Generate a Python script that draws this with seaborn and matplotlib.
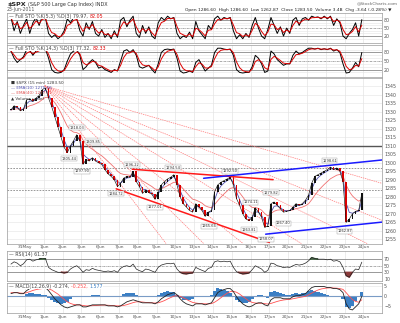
import numpy as np
import pandas as pd
import seaborn as sns
import matplotlib
matplotlib.use("Agg")
import matplotlib.pyplot as plt

sns.set_theme(style="white")
plt.rcParams['font.family'] = ['DejaVu Sans']

# ---------------- data ----------------
day_labels = ["31May", "1Jun", "2Jun", "3Jun", "6Jun", "7Jun", "8Jun", "9Jun", "10Jun",
              "13Jun", "14Jun", "15Jun", "16Jun", "17Jun", "20Jun", "21Jun", "22Jun",
              "23Jun", "24Jun"]

# 15-min closes sampled ~6 per session (first 5 = 27May)
price = [1331, 1333.5, 1332.5, 1330.5, 1331.5,
         1337, 1337.5, 1336, 1338, 1339.5, 1343,
         1344, 1338, 1333, 1327, 1321, 1315,
         1309, 1306, 1310, 1313, 1316.5, 1313,
         1299, 1302, 1301, 1303, 1301, 1300,
         1299, 1296, 1293.5, 1292, 1290, 1286,
         1288, 1291, 1292, 1291.5, 1295, 1289,
         1286, 1282, 1284, 1282.5, 1281.5, 1278.5,
         1283, 1287, 1289, 1290.5, 1291.5, 1293,
         1287, 1280, 1276, 1274, 1272, 1271,
         1276, 1274, 1272, 1268.5, 1271, 1272,
         1283, 1287, 1288.5, 1289.5, 1290.5, 1291.5,
         1287, 1279, 1275, 1270, 1267, 1266,
         1268, 1273.5, 1271, 1268, 1262, 1263,
         1276, 1277, 1275, 1273, 1271, 1271.5,
         1272, 1274, 1276, 1275, 1276, 1278,
         1281, 1288, 1292, 1293, 1294, 1295,
         1296, 1297.5, 1296, 1297, 1295, 1289,
         1265, 1267, 1270, 1271.5, 1272, 1282]

sto_fast = [90, 40, 75, 30, 60,
            85, 30, 70, 90, 60, 95,
            90, 30, 15, 25, 10, 20,
            40, 85, 70, 90, 85, 40,
            20, 70, 45, 75, 30, 20,
            45, 15, 30, 10, 40, 15,
            80, 90, 55, 80, 95, 30,
            15, 60, 30, 55, 20, 10,
            70, 90, 80, 95, 85, 90,
            30, 10, 20, 15, 35, 10,
            75, 40, 25, 10, 60, 45,
            85, 95, 80, 90, 85, 90,
            40, 10, 25, 10, 30, 15,
            60, 90, 50, 20, 10, 45,
            90, 60, 30, 55, 20, 50,
            30, 80, 90, 60, 85, 90,
            80, 95, 90, 92, 85, 95,
            85, 95, 60, 85, 70, 20,
            10, 30, 45, 70, 20, 82]

sto_slow = [85, 60, 45, 55, 65,
            90, 88, 70, 85, 90, 95,
            92, 60, 20, 10, 8, 10,
            20, 50, 75, 85, 90, 70,
            20, 30, 45, 55, 45, 25,
            30, 20, 15, 10, 20, 15,
            50, 85, 90, 80, 90, 70,
            30, 25, 30, 35, 20, 8,
            40, 80, 90, 92, 90, 92,
            60, 15, 8, 10, 15, 10,
            45, 55, 35, 15, 25, 35,
            80, 95, 95, 92, 90, 92,
            70, 20, 10, 8, 10, 10,
            30, 70, 60, 40, 10, 15,
            85, 75, 55, 45, 35, 40,
            40, 70, 85, 75, 80, 88,
            95, 95, 92, 95, 90, 93,
            90, 95, 85, 90, 80, 40,
            8, 10, 25, 45, 30, 80]

rsi = [55, 62, 58, 50, 56,
       68, 70, 64, 68, 70, 74,
       72, 45, 38, 34, 30, 30,
       28, 30, 40, 46, 50, 42,
       30, 38, 36, 42, 38, 36,
       34, 32, 34, 32, 35, 30,
       42, 48, 50, 47, 55, 40,
       35, 32, 40, 38, 34, 30,
       45, 52, 55, 57, 56, 58,
       40, 30, 26, 25, 27, 28,
       45, 40, 36, 32, 42, 45,
       62, 65, 62, 64, 62, 64,
       45, 32, 28, 25, 26, 28,
       38, 50, 45, 40, 30, 36,
       58, 56, 50, 48, 44, 46,
       45, 50, 54, 52, 54, 58,
       65, 75, 72, 70, 70, 70,
       68, 70, 64, 66, 62, 45,
       20, 15, 30, 40, 38, 61]

macd = [1.0, 1.5, 1.5, 1.0, 1.0,
        2.5, 3.5, 3.8, 3.8, 3.9, 4.0,
        4.0, 2.5, 0.5, -1.5, -3.0, -4.5,
        -5.5, -6.0, -5.5, -5.0, -4.5, -4.5,
        -5.5, -5.5, -5.0, -4.5, -4.5, -4.5,
        -4.5, -4.5, -5.0, -5.0, -5.0, -5.5,
        -5.0, -4.0, -3.0, -2.5, -2.0, -2.5,
        -3.0, -3.5, -3.5, -3.5, -3.5, -4.0,
        -3.0, -1.5, -0.5, 0.5, 1.0, 1.5,
        0.5, -1.5, -3.0, -4.0, -4.5, -5.0,
        -4.0, -4.0, -4.0, -4.5, -4.0, -3.5,
        -1.0, 1.5, 2.5, 3.0, 3.5, 3.5,
        2.0, -0.5, -2.5, -4.0, -5.0, -5.5,
        -5.0, -4.0, -3.5, -3.5, -4.5, -5.0,
        -2.0, -1.0, -1.0, -1.0, -1.5, -1.5,
        -1.5, -0.5, 0.0, 0.0, 0.5, 1.0,
        2.5, 4.0, 4.5, 4.5, 4.5, 4.5,
        4.0, 4.0, 3.5, 3.5, 3.0, 1.5,
        -4.0, -6.5, -7.0, -5.5, -4.0, -0.3]

signal = [1.5, 1.5, 1.5, 1.3, 1.2,
          1.5, 2.0, 2.6, 3.0, 3.3, 3.5,
          3.7, 3.4, 2.8, 1.8, 0.8, -0.5,
          -1.8, -3.0, -3.8, -4.3, -4.5, -4.5,
          -4.8, -5.0, -5.0, -4.9, -4.8, -4.7,
          -4.6, -4.6, -4.7, -4.8, -4.9, -5.0,
          -5.0, -4.8, -4.4, -3.9, -3.4, -3.0,
          -3.0, -3.1, -3.3, -3.4, -3.5, -3.6,
          -3.5, -3.0, -2.4, -1.6, -0.9, -0.2,
          0.0, -0.3, -1.0, -1.8, -2.6, -3.3,
          -3.6, -3.8, -3.9, -4.0, -4.0, -3.9,
          -3.2, -2.2, -1.0, 0.2, 1.2, 2.0,
          2.2, 1.7, 0.8, -0.4, -1.5, -2.6,
          -3.3, -3.6, -3.7, -3.7, -3.9, -4.1,
          -3.8, -3.3, -2.8, -2.4, -2.1, -1.9,
          -1.8, -1.5, -1.2, -0.9, -0.6, -0.3,
          0.4, 1.3, 2.1, 2.8, 3.3, 3.6,
          3.8, 3.9, 3.8, 3.7, 3.5, 3.1,
          1.5, -0.3, -1.9, -2.8, -3.2, -2.0]

# labelled swing points
swing_x = [2.34, 2.75, 3.05, 3.6, 4.85, 5.7, 6.9, 7.85, 9.8, 10.9, 11.9, 12.0, 12.8, 13.1, 13.75, 16.2, 17.0]
swing_v = [1305.44, 1318.03, 1297.90, 1309.85, 1284.72, 1296.22, 1277.01, 1294.54, 1265.64,
           1292.50, 1263.81, 1274.11, 1258.07, 1279.82, 1267.40, 1298.61, 1262.87]
swing_up = [False, True, False, True, False, True, False, True, False, True, False, True,
            False, True, False, True, False]

# fan lines from the 1Jun high: (start day, start price, end day, end price)
fan_lines = [(1.05, 1345.2, 19.0, 1287.9),
             (1.05, 1345.2, 19.0, 1266.2),
             (1.05, 1345.2, 18.2, 1252.6),
             (1.05, 1345.2, 14.7, 1252.6),
             (1.05, 1345.2, 11.6, 1252.6),
             (1.05, 1345.2, 9.5, 1252.6),
             (1.05, 1345.2, 7.5, 1252.6)]
red_lines = [(5.7, 1296.22, 13.2, 1290.1),
             (4.85, 1284.72, 13.0, 1253.2)]
blue_lines = [(9.5, 1290.9, 19.2, 1301.9),
              (12.8, 1258.07, 19.2, 1265.4)]

# ---------------- layout ----------------
W, H = 400, 323
fig = plt.figure(figsize=(W / 100, H / 100), dpi=100)
fig.patch.set_facecolor("white")
L, R = 7, 382

def add_ax(top, bottom):
    return fig.add_axes([L / W, 1 - bottom / H, (R - L) / W, (bottom - top) / H])

ax_s1 = add_ax(12.7, 43)
ax_s2 = add_ax(44.5, 77)
ax_m = add_ax(78, 243.5)
ax_r = add_ax(251, 280.5)
ax_d = add_ax(282.5, 313)

n = len(price)
xs = (np.arange(n) - 5 + 0.5) / 6.0
df = pd.DataFrame({"x": xs, "price": price, "sto_fast": sto_fast, "sto_slow": sto_slow,
                   "rsi": rsi, "macd": macd, "signal": signal})
s = pd.Series(price, dtype=float)
df["ema10"] = s.ewm(alpha=0.58, adjust=False).mean()
df["ema40"] = s.ewm(alpha=0.195, adjust=False).mean()
df["sto_fast_d"] = pd.Series(sto_fast, dtype=float).ewm(alpha=0.55, adjust=False).mean()
df["sto_slow_d"] = pd.Series(sto_slow, dtype=float).ewm(alpha=0.55, adjust=False).mean()
df["hist"] = df["macd"] - df["signal"]

XL = (-0.96, 18.99)
tick_fs = 3.4
grid_c = "#e4e4e4"


def label_parts(ax, parts, y=0.96):
    x = 0.005
    for txt, col in parts:
        t = ax.text(x, y, txt, transform=ax.transAxes, fontsize=3.4, va="top", ha="left",
                    color=col, zorder=9,
                    bbox=dict(facecolor="white", edgecolor="none", pad=0.2))
        fig.canvas.draw()
        bb = t.get_window_extent().transformed(ax.transAxes.inverted())
        x = bb.x1


for ax in [ax_s1, ax_s2, ax_m, ax_r, ax_d]:
    ax.set_xlim(*XL)
    ax.set_facecolor("white")
    for sp in ax.spines.values():
        sp.set_color("#9a9a9a")
        sp.set_linewidth(0.5)
    ax.yaxis.tick_right()
    ax.tick_params(axis="both", length=0, labelsize=tick_fs, colors="#555555", pad=1.5)
    ax.set_xticks(np.arange(0, 19))
    ax.set_xticklabels([])
    for d in range(0, 19):
        ax.axvline(d, color=grid_c, lw=0.5, zorder=0)

# ---- stochastic panels ----
for ax, k, dcol, txt in [(ax_s1, "sto_fast", "sto_fast_d", ("\u2014 Full STO %K(5,3) %D(3) 79.97, ", "82.05")),
                         (ax_s2, "sto_slow", "sto_slow_d", ("\u2014 Full STO %K(14,3) %D(3) 77.32, ", "82.33"))]:
    ax.set_ylim(-6, 108)
    ax.set_yticks([20, 50, 80])
    for lv in [10, 30, 40, 60, 70, 90]:
        ax.axhline(lv, color=grid_c, lw=0.4, zorder=0)
    ax.axhline(80, color="#888888", lw=0.6, zorder=1)
    ax.axhline(20, color="#888888", lw=0.6, zorder=1)
    ax.axhline(50, color="#888888", lw=0.5, ls=(0, (3, 1, 1, 1)), zorder=1)
    sns.lineplot(data=df, x="x", y=k, ax=ax, color="black", lw=0.7, zorder=3)
    sns.lineplot(data=df, x="x", y=dcol, ax=ax, color="#dd0000", lw=0.7, zorder=4)
    ax.set_xlabel("")
    ax.set_ylabel("")
    label_parts(ax, [(txt[0], "#444444"), (txt[1], "#dd0000")])

# ---- main price panel ----
ax = ax_m
ax.set_ylim(1252.6, 1349.8)
ax.set_yticks(np.arange(1255, 1346, 5))
for lv in np.arange(1255, 1350, 5):
    ax.axhline(lv, color=grid_c, lw=0.4, zorder=0)
ax.axhline(1310, color="#555555", lw=1.0, zorder=1)
ax.axhline(1297.2, color="#888888", lw=0.6, ls=(0, (2, 1.5)), zorder=1)
ax.axhline(1284.2, color="#888888", lw=0.6, ls=(0, (2, 1.5)), zorder=1)

for (x0, y0, x1, y1) in fan_lines:
    ax.plot([x0, x1], [y0, y1], color="#ff7a7a", lw=0.5, ls=(0, (2, 1.2)), zorder=2)
for (x0, y0, x1, y1) in red_lines:
    ax.plot([x0, x1], [y0, y1], color="#ff1a1a", lw=1.1, zorder=5)
for (x0, y0, x1, y1) in blue_lines:
    ax.plot([x0, x1], [y0, y1], color="#1a1aff", lw=1.1, zorder=5)

sns.lineplot(data=df, x="x", y="ema40", ax=ax, color="#f07070", lw=0.6, zorder=3)
sns.lineplot(data=df, x="x", y="ema10", ax=ax, color="#5050b0", lw=0.6, zorder=3)
opens = df["price"].shift(1).fillna(df["price"].iloc[0])
delta = df["price"] - opens
cols = ["#111111" if v >= 0 else "#dd0000" for v in delta]
ax.bar(df["x"], delta.where(delta.abs() > 0.3, 0.3), bottom=opens, width=0.09,
       color=cols, zorder=4, linewidth=0)
sns.lineplot(data=df, x="x", y="price", ax=ax, color="#111111", lw=0.45, zorder=4)
ax.set_xlabel("")
ax.set_ylabel("")

for xv, yv, up in zip(swing_x, swing_v, swing_up):
    ax.text(xv, yv + (2.6 if up else -3.0), f"{yv:.2f}", fontsize=2.6, ha="center",
            va="center", color="#333333", zorder=7,
            bbox=dict(facecolor="white", edgecolor="#999999", lw=0.3, pad=0.4))

leg = [("\u25a0 $SPX (15 min) 1283.50", "#333333"), ("\u2014 EMA(10) 1275.56", "#5050b0"),
       ("\u2014 EMA(40) 1277.51", "#e05050"), ("\u25b2 Volume undef", "#333333")]
for i, (tx, c) in enumerate(leg):
    ax.text(0.01, 0.985 - i * 0.032, tx, transform=ax.transAxes, fontsize=3.0, va="top",
            ha="left", color=c, zorder=8)

# ---- RSI ----
ax = ax_r
ax.set_ylim(5, 95)
ax.set_yticks([10, 30, 50, 70])
ax.axhline(70, color="#888888", lw=0.6)
ax.axhline(30, color="#888888", lw=0.6)
ax.axhline(50, color="#888888", lw=0.5, ls=(0, (3, 1, 1, 1)))
sns.lineplot(data=df, x="x", y="rsi", ax=ax, color="#222222", lw=0.5, zorder=3)
r = df["rsi"].to_numpy()
ax.fill_between(df["x"], r, 30, where=r < 30, interpolate=True, color="#8b3a3a", zorder=2)
ax.fill_between(df["x"], r, 70, where=r > 70, interpolate=True, color="#4a6a4a", zorder=2)
ax.set_xlabel("")
ax.set_ylabel("")
label_parts(ax, [("\u2014 RSI(14) 61.37", "#444444")], y=0.95)

# ---- MACD ----
ax = ax_d
ax.set_ylim(-8.5, 6.5)
ax.set_yticks([-5, 0, 5])
for lv in [-5, 5]:
    ax.axhline(lv, color=grid_c, lw=0.4, zorder=0)
ax.bar(df["x"], df["hist"], width=0.17, color="#3b7fc4", zorder=2, linewidth=0)
ax.axhline(0, color="#7a9cc6", lw=0.8, zorder=2)
sns.lineplot(data=df, x="x", y="signal", ax=ax, color="#ff5050", lw=0.6, zorder=3)
sns.lineplot(data=df, x="x", y="macd", ax=ax, color="#222222", lw=0.6, zorder=4)
ax.set_xlabel("")
ax.set_ylabel("")
label_parts(ax, [("\u2014 MACD(12,26,9) -0.274, ", "#444444"), ("-0.252, ", "#ff5050"),
                 ("1.577", "#3b7fc4")], y=0.95)

for axx in [ax_m, ax_d]:
    axx.set_xticks(np.arange(0, 19))
    axx.set_xticklabels(day_labels, fontsize=3.2, color="#555555")
    axx.tick_params(axis="x", pad=1.2)

# header
fig.text(7 / W, 1 - 4.5 / H, "$SPX", fontsize=4.6, fontweight="bold", va="center", ha="left")
fig.text(28 / W, 1 - 4.5 / H, "(S&P 500 Large Cap Index) INDX", fontsize=3.5, va="center",
         ha="left", color="#333333")
fig.text(7 / W, 1 - 10 / H, "23-Jun-2011", fontsize=3.3, va="center", ha="left", color="#555555")
fig.text(185 / W, 1 - 10 / H, "Open 1286.60  High 1286.60  Low 1262.87  Close 1283.50  Volume 3.4B  Chg -3.64 (-0.28%) \u25bc",
         fontsize=3.2, va="center", ha="left", color="#222222")
fig.text(398 / W, 1 - 3.5 / H, "@StockCharts.com", fontsize=3.2, va="center", ha="right",
         color="#666666")

fig.savefig("out.png", dpi=100, facecolor="white")
